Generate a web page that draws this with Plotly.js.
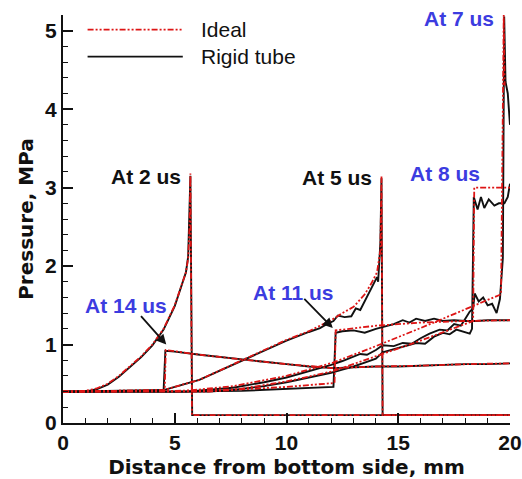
<!DOCTYPE html>
<html>
<head>
<meta charset="utf-8">
<script src="https://cdn.plot.ly/plotly-3.0.1.min.js"></script>
<style>
  html, body { margin: 0; padding: 0; background: #fff; }
  #chart { width: 522px; height: 479px; }
</style>
</head>
<body>
<div id="chart"></div>
<script>
// ---------- Data ----------
// Ideal (red dash-dot-dot)
const ideal_2us_x = [0, 1, 1.5, 2, 2.5, 3, 3.5, 4, 4.5, 5, 5.3, 5.5, 5.6, 5.66, 5.7, 5.77, 20];
const ideal_2us_p = [0.4, 0.41, 0.44, 0.5, 0.6, 0.72, 0.85, 1.0, 1.2, 1.5, 1.75, 1.92, 2.1, 2.5, 3.18, 0.1, 0.1];

const ideal_5us_x = [0, 4.5, 6.1, 8, 10, 11, 12, 12.5, 13, 13.5, 13.8, 14.05, 14.2, 14.25, 14.3, 20];
const ideal_5us_p = [0.4, 0.42, 0.55, 0.8, 1.06, 1.17, 1.31, 1.4, 1.48, 1.64, 1.78, 1.92, 2.2, 3.15, 0.1, 0.1];

const ideal_7us_x = [0, 5.5, 7.6, 10, 12.08, 13.74, 16, 18, 19.6, 19.72, 19.76];
const ideal_7us_p = [0.4, 0.41, 0.47, 0.6, 0.77, 0.95, 1.21, 1.45, 1.64, 5.2, 4.3];

const ideal_8us_x = [0, 6.5, 7.6, 10, 12.08, 14.3, 16, 18.35, 18.4, 19.9, 20];
const ideal_8us_p = [0.4, 0.4, 0.42, 0.53, 0.66, 0.88, 1.05, 1.3, 3.0, 3.0, 3.0];

const ideal_11us_x = [0, 5, 8, 10, 12.15, 12.2, 14, 16, 18, 20];
const ideal_11us_p = [0.4, 0.41, 0.43, 0.46, 0.51, 1.18, 1.24, 1.28, 1.3, 1.31];

const ideal_14us_x = [0, 4.55, 4.6, 6.12, 8, 10, 12.08, 14, 16, 18, 20];
const ideal_14us_p = [0.4, 0.42, 0.93, 0.87, 0.81, 0.75, 0.70, 0.72, 0.73, 0.75, 0.76];

// Rigid tube (black solid)
const rigid_2us_x = [0, 1, 1.5, 2, 2.5, 3, 3.5, 4, 4.5, 5, 5.3, 5.5, 5.6, 5.66, 5.7, 5.78, 8, 12, 16, 20];
const rigid_2us_p = [0.4, 0.4, 0.43, 0.49, 0.59, 0.71, 0.84, 0.99, 1.19, 1.49, 1.74, 1.92, 2.12, 2.6, 3.15, 0.1, 0.1, 0.1, 0.1, 0.1];

const rigid_5us_x = [0, 4.5, 6.1, 8, 10, 11, 11.5, 11.8, 12.1, 12.3, 12.6, 12.9, 13.1, 13.3, 13.5, 13.7, 13.9, 14.05, 14.1, 14.2, 14.25, 14.3, 20];
const rigid_5us_p = [0.4, 0.42, 0.55, 0.79, 1.05, 1.16, 1.21, 1.26, 1.3, 1.37, 1.35, 1.36, 1.46, 1.44, 1.55, 1.68, 1.78, 1.86, 1.8, 2.3, 3.12, 0.1, 0.1];

const rigid_7us_x = [0, 5.5, 7.6, 9, 10, 11, 12, 12.5, 13, 13.3, 13.6, 14, 14.3, 14.8, 15.2, 15.6, 16, 16.4, 16.85, 17.2, 17.5, 17.8, 18.0, 18.2, 18.35, 18.42, 18.6, 18.8, 19.0, 19.2, 19.4, 19.55, 19.68, 19.74, 19.8, 19.9, 20];
const rigid_7us_p = [0.4, 0.4, 0.45, 0.52, 0.58, 0.66, 0.74, 0.79, 0.84, 0.88, 0.87, 0.93, 0.99, 0.98, 1.02, 1.01, 1.08, 1.14, 1.19, 1.18, 1.26, 1.24, 1.33, 1.42, 1.46, 1.65, 1.55, 1.6, 1.5, 1.52, 1.4, 1.58, 2.1, 5.18, 4.35, 4.2, 3.8];

const rigid_8us_x = [0, 6.5, 7.6, 9, 10, 11, 12, 12.5, 13, 13.5, 14, 14.3, 14.8, 15.3, 15.8, 16.2, 16.6, 17, 17.3, 17.6, 17.9, 18.2, 18.3, 18.38, 18.55, 18.7, 18.85, 19.05, 19.3, 19.5, 19.75, 19.9, 20];
const rigid_8us_p = [0.4, 0.4, 0.42, 0.47, 0.52, 0.58, 0.64, 0.68, 0.72, 0.77, 0.82, 0.9, 0.94, 0.98, 1.02, 1.01, 1.1, 1.15, 1.13, 1.19, 1.16, 1.14, 1.2, 2.88, 2.72, 2.88, 2.74, 2.85, 2.77, 2.8, 2.8, 2.88, 3.05];

const rigid_11us_x = [0, 5, 8, 10, 11, 12.1, 12.2, 12.5, 13, 13.5, 14, 14.3, 14.8, 15.2, 15.5, 15.8, 16.2, 16.6, 17, 17.5, 18, 18.5, 19, 20];
const rigid_11us_p = [0.4, 0.4, 0.41, 0.43, 0.44, 0.46, 1.15, 1.17, 1.18, 1.15, 1.2, 1.22, 1.26, 1.31, 1.28, 1.33, 1.3, 1.33, 1.3, 1.31, 1.3, 1.3, 1.31, 1.31];

const rigid_14us_x = [0, 4.5, 4.58, 5, 6.12, 7, 8, 9, 10, 11, 12.08, 13, 14, 15, 16, 17, 18, 19, 20];
const rigid_14us_p = [0.4, 0.41, 0.92, 0.91, 0.87, 0.84, 0.81, 0.78, 0.75, 0.72, 0.70, 0.71, 0.72, 0.72, 0.73, 0.74, 0.75, 0.75, 0.76];

// Labels
const seriesNames = ["Ideal", "Rigid tube"];
const timeLabels = ["At 2 us", "At 5 us", "At 7 us", "At 8 us", "At 11 us", "At 14 us"];
const xTitle = "Distance from bottom side, mm";
const yTitle = "Pressure, MPa";

// ---------- Styling ----------
const RED = "#dd1515";
const BLUE = "#3c3ce0";
const IDEAL_DASH = "6px,2px,2px,2px,2px,2px";
const labelFont = "Liberation Sans, Arial, sans-serif";
const titleFont = "DejaVu Sans, sans-serif";

const rigidSets = [
  [rigid_2us_x, rigid_2us_p], [rigid_5us_x, rigid_5us_p], [rigid_7us_x, rigid_7us_p],
  [rigid_8us_x, rigid_8us_p], [rigid_11us_x, rigid_11us_p], [rigid_14us_x, rigid_14us_p]
];
const idealSets = [
  [ideal_2us_x, ideal_2us_p], [ideal_5us_x, ideal_5us_p], [ideal_7us_x, ideal_7us_p],
  [ideal_8us_x, ideal_8us_p], [ideal_11us_x, ideal_11us_p], [ideal_14us_x, ideal_14us_p]
];

const traces = [];
rigidSets.forEach((s, i) => traces.push({
  x: s[0], y: s[1], type: "scatter", mode: "lines",
  name: seriesNames[1] + " " + timeLabels[i], showlegend: false,
  line: { color: "#111", width: 1.9 }, hoverinfo: "skip"
}));
idealSets.forEach((s, i) => traces.push({
  x: s[0], y: s[1], type: "scatter", mode: "lines",
  name: seriesNames[0] + " " + timeLabels[i], showlegend: false,
  line: { color: RED, width: 1.8, dash: IDEAL_DASH }, hoverinfo: "skip"
}));

// time annotations: [text, x, y, color]
const timeAnn = [
  [timeLabels[0], 3.72, 3.14, "#111"],
  [timeLabels[1], 12.25, 3.13, "#111"],
  [timeLabels[2], 17.7, 5.15, BLUE],
  [timeLabels[3], 17.1, 3.18, BLUE],
  [timeLabels[4], 10.3, 1.66, BLUE],
  [timeLabels[5], 2.8, 1.5, BLUE]
];
const annotations = timeAnn.map(a => ({
  text: a[0], x: a[1], y: a[2], xref: "x", yref: "y", showarrow: false,
  xanchor: "center", yanchor: "middle",
  font: { family: labelFont, size: 21, color: a[3], weight: "bold" }
}));
// arrows (head at x,y; tail at ax,ay)
annotations.push({ x: 4.62, y: 1.0, ax: 3.43, ay: 1.38, xref: "x", yref: "y", axref: "x", ayref: "y",
  text: "", showarrow: true, arrowhead: 2, arrowsize: 1.1, arrowwidth: 1.8, arrowcolor: "#111" });
annotations.push({ x: 12.07, y: 1.21, ax: 10.73, ay: 1.6, xref: "x", yref: "y", axref: "x", ayref: "y",
  text: "", showarrow: true, arrowhead: 2, arrowsize: 1.1, arrowwidth: 1.8, arrowcolor: "#111" });

// custom legend
annotations.push({ text: seriesNames[0], xref: "paper", yref: "paper", x: 0.305, y: 0.964,
  xanchor: "left", yanchor: "middle", showarrow: false,
  font: { family: labelFont, size: 21, color: "#111" } });
annotations.push({ text: seriesNames[1], xref: "paper", yref: "paper", x: 0.305, y: 0.898,
  xanchor: "left", yanchor: "middle", showarrow: false,
  font: { family: labelFont, size: 21, color: "#111" } });
const shapes = [
  { type: "line", xref: "paper", yref: "paper", x0: 0.055, x1: 0.268, y0: 0.964, y1: 0.964,
    line: { color: RED, width: 1.8, dash: IDEAL_DASH } },
  { type: "line", xref: "paper", yref: "paper", x0: 0.055, x1: 0.268, y0: 0.898, y1: 0.898,
    line: { color: "#111", width: 1.9 } }
];

const layout = {
  width: 522, height: 479,
  margin: { l: 63, r: 12, t: 15, b: 56 },
  paper_bgcolor: "#fff", plot_bgcolor: "#fff",
  showlegend: false,
  xaxis: {
    range: [0, 20], showgrid: false, zeroline: false,
    showline: true, linecolor: "#111", linewidth: 2,
    ticks: "inside", ticklen: 10, tickwidth: 2, tickcolor: "#111", dtick: 5, tick0: 0,
    minor: { ticks: "inside", dtick: 1, ticklen: 5, tickwidth: 1, tickcolor: "#111" },
    tickfont: { family: labelFont, size: 21, color: "#111", weight: "bold" },
    ticklabelstandoff: 0,
    title: { text: xTitle, standoff: 9, font: { family: titleFont, size: 20, color: "#111", weight: "bold" } }
  },
  yaxis: {
    range: [0, 5.2], showgrid: false, zeroline: false,
    showline: true, linecolor: "#111", linewidth: 2,
    ticks: "inside", ticklen: 10, tickwidth: 2, tickcolor: "#111", dtick: 1, tick0: 0,
    minor: { ticks: "inside", dtick: 0.2, ticklen: 5, tickwidth: 1, tickcolor: "#111" },
    tickfont: { family: labelFont, size: 21, color: "#111", weight: "bold" },
    ticklabelstandoff: 0,
    title: { text: yTitle, standoff: 6, font: { family: titleFont, size: 20, color: "#111", weight: "bold" } }
  },
  annotations: annotations,
  shapes: shapes
};

Plotly.newPlot("chart", traces, layout, { staticPlot: true, displayModeBar: false });
</script>
</body>
</html>
